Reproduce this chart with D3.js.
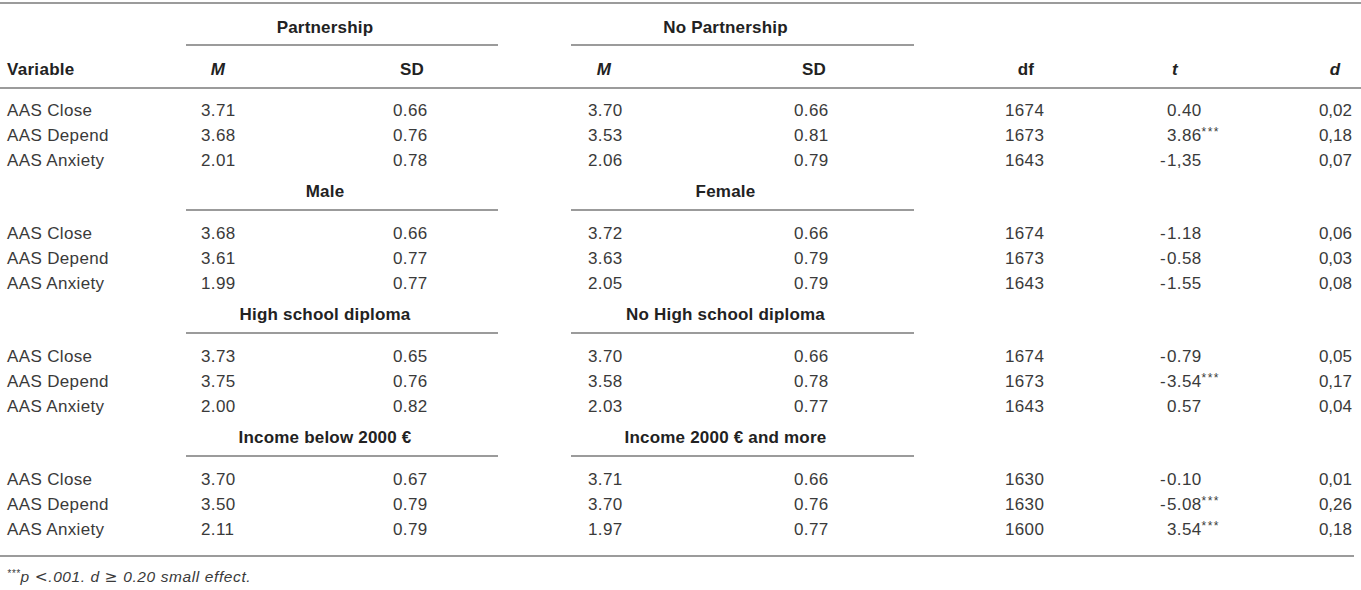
<!DOCTYPE html>
<html>
<head>
<meta charset="utf-8">
<script src="https://cdn.jsdelivr.net/npm/d3@7"></script>
<style>
  html, body { margin: 0; padding: 0; background: #fff; }
  text { font-family: "Liberation Sans", Arial, Helvetica, sans-serif; }
</style>
</head>
<body>
<div id="table"></div>
<script>
// table data
const rowLabels = ["AAS Close", "AAS Depend", "AAS Anxiety"];
const groupA = ["Partnership", "Male", "High school diploma", "Income below 2000 €"];
const groupB = ["No Partnership", "Female", "No High school diploma", "Income 2000 € and more"];
const colHeads = ["Variable", "M", "SD", "M", "SD", "df", "t", "d"];

const mA = [["3.71", "3.68", "2.01"], ["3.68", "3.61", "1.99"], ["3.73", "3.75", "2.00"], ["3.70", "3.50", "2.11"]];
const sdA = [["0.66", "0.76", "0.78"], ["0.66", "0.77", "0.77"], ["0.65", "0.76", "0.82"], ["0.67", "0.79", "0.79"]];
const mB = [["3.70", "3.53", "2.06"], ["3.72", "3.63", "2.05"], ["3.70", "3.58", "2.03"], ["3.71", "3.70", "1.97"]];
const sdB = [["0.66", "0.81", "0.79"], ["0.66", "0.79", "0.79"], ["0.66", "0.78", "0.77"], ["0.66", "0.76", "0.77"]];
const dfs = [["1674", "1673", "1643"], ["1674", "1673", "1643"], ["1674", "1673", "1643"], ["1630", "1630", "1600"]];
const tVals = [["0.40", "3.86***", "-1,35"], ["-1.18", "-0.58", "-1.55"], ["-0.79", "-3.54***", "0.57"], ["-0.10", "-5.08***", "3.54***"]];
const dVals = [["0,02", "0,18", "0,07"], ["0,06", "0,03", "0,08"], ["0,05", "0,17", "0,04"], ["0,01", "0,26", "0,18"]];
const footParts = ["***", "p ", "<", ".001. d ", "≥", " 0.20 small effect."];

const W = 1361, H = 590;
const textCol = "#3a3a3a", boldCol = "#222", lineCol = "#7a7a7a";

const svg = d3.select("#table").append("svg")
    .attr("width", W)
    .attr("height", H);

// row position: group g, row r -> text centre
const rowY = d3.scaleLinear().domain([0, 1]).range([110, 135]);
const groupStep = 123;
const yOf = (g, r) => rowY(r) + g * groupStep;

// column x positions (start of numbers)
const colX = d3.scaleOrdinal()
    .domain(["var", "mA", "sdA", "mB", "sdB", "df", "t", "d"])
    .range([7, 201, 393, 588, 794, 1005, 1167, 1352]);
const headX = d3.scaleOrdinal()
    .domain(["var", "mA", "sdA", "mB", "sdB", "df", "t", "d"])
    .range([7, 218, 412, 604, 814, 1026, 1175, 1335]);
const spanA = [186, 498], spanB = [571, 914];

const base = 6; // centre -> baseline offset

function hline(x1, x2, y) {
  svg.append("line")
      .attr("x1", x1).attr("x2", x2)
      .attr("y1", y).attr("y2", y)
      .attr("stroke", lineCol)
      .attr("stroke-width", 1.3);
}

// outer rules
hline(0, W, 3);
hline(0, W, 88);
hline(0, 1354, 556);

// column header row
const keys = colX.domain();
svg.append("g").selectAll("text")
    .data(colHeads)
    .join("text")
    .attr("x", (d, i) => headX(keys[i]))
    .attr("y", 69 + base)
    .attr("text-anchor", (d, i) => i === 0 ? "start" : "middle")
    .attr("font-size", 17)
    .attr("font-weight", "bold")
    .attr("letter-spacing", 0.3)
    .attr("font-style", d => (d === "M" || d === "t" || d === "d") ? "italic" : "normal")
    .attr("fill", boldCol)
    .text(d => d);

groupA.forEach(function(label, g) {
  const ly = g === 0 ? 27 : 68 + g * groupStep;
  const uy = g === 0 ? 45 : 87 + g * groupStep;

  // group labels + underlines
  [[label, spanA], [groupB[g], spanB]].forEach(function(p) {
    svg.append("text")
        .attr("x", (p[1][0] + p[1][1]) / 2 - 17)
        .attr("y", ly + base)
        .attr("text-anchor", "middle")
        .attr("font-size", 17)
        .attr("font-weight", "bold")
        .attr("letter-spacing", 0.2)
        .attr("fill", boldCol)
        .text(p[0]);
    hline(p[1][0], p[1][1], uy);
  });

  const rows = svg.append("g").selectAll("g")
      .data(rowLabels)
      .join("g")
      .attr("transform", (d, r) => `translate(0,${yOf(g, r) + base})`)
      .attr("font-size", 17)
      .attr("letter-spacing", 0.35)
      .attr("fill", textCol);

  rows.append("text").attr("x", colX("var")).text(d => d);
  rows.append("text").attr("x", colX("mA")).text((d, r) => mA[g][r]);
  rows.append("text").attr("x", colX("sdA")).text((d, r) => sdA[g][r]);
  rows.append("text").attr("x", colX("mB")).text((d, r) => mB[g][r]);
  rows.append("text").attr("x", colX("sdB")).text((d, r) => sdB[g][r]);
  rows.append("text").attr("x", colX("df")).text((d, r) => dfs[g][r]);
  rows.append("text").attr("x", colX("d")).attr("text-anchor", "end").attr("letter-spacing", 0).text((d, r) => dVals[g][r]);

  // t: minus sign hangs left of the digits, stars as superscript
  rows.each(function(d, r) {
    const raw = tVals[g][r];
    const stars = (raw.match(/\*+$/) || [""])[0];
    const num = raw.replace(/\*+$/, "");
    const neg = num[0] === "-";
    const el = d3.select(this);
    if (neg) {
      el.append("text").attr("x", colX("t") - 1).attr("text-anchor", "end").text("-");
    }
    const t = el.append("text").attr("x", colX("t")).text(neg ? num.slice(1) : num);
    if (stars) {
      t.append("tspan").attr("font-size", 12).attr("letter-spacing", 1.5).attr("dy", -5).text(stars);
    }
  });
});

// footnote
const fn = svg.append("text")
    .attr("x", 7)
    .attr("y", 582)
    .attr("font-size", 15.5)
    .attr("font-style", "italic")
    .attr("letter-spacing", 0.6)
    .attr("fill", textCol);
fn.selectAll("tspan")
    .data(footParts)
    .join("tspan")
    .attr("font-size", (d, i) => i === 0 ? 10 : null)
    .attr("dy", (d, i) => i === 0 ? -5 : (i === 1 ? 5 : null))
    .attr("font-family", d => (d === "<" || d === "≥") ? "DejaVu Sans" : null)
    .attr("font-style", d => (d === "<" || d === "≥") ? "normal" : null)
    .text(d => d);
</script>
</body>
</html>
